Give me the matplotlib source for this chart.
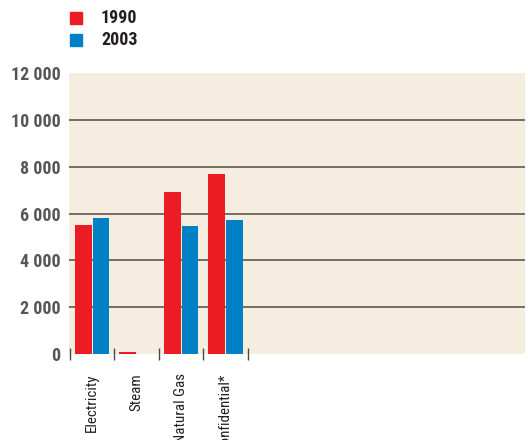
import matplotlib
matplotlib.use("Agg")

import numpy as np
import matplotlib.pyplot as plt
from matplotlib.patches import Rectangle

# ---- Data ----
categories = ["Electricity", "Steam", "Natural Gas", "Confidential*"]
series_names = ["1990", "2003"]
values_1990 = [5500, 70, 6900, 7700]
values_2003 = [5800, 0, 5470, 5730]
y_ticks = [0, 2000, 4000, 6000, 8000, 10000, 12000]
y_tick_labels = ["0", "2 000", "4 000", "6 000", "8 000", "10 000", "12 000"]

RED = "#ed1c24"
BLUE = "#0081c6"
PANEL = "#f5ede0"
GRID = "#756c66"
LABEL_GRAY = "#55565a"
NARROW = ["Roboto Condensed", "Archivo Narrow", "DejaVu Sans"]

fig = plt.figure(figsize=(5.28, 4.40), dpi=100)
ax = fig.add_axes([69 / 528, 1 - 354 / 440, 456 / 528, 281 / 440])
ax.set_facecolor(PANEL)

x = np.arange(len(categories))
width = 0.38
ax.bar(x - 0.2, values_1990, width, color=RED, zorder=3)
ax.bar(x + 0.2, values_2003, width, color=BLUE, zorder=3)

# horizontal guide lines (not at the floor or the ceiling)
for v in y_ticks[1:-1]:
    ax.axhline(v, color=GRID, lw=1.4, zorder=1)

ax.set_ylim(0, 12000)
ax.set_xlim(-0.52, 9.73)

for s in ax.spines.values():
    s.set_visible(False)

ax.set_yticks(y_ticks)
ax.set_yticklabels(y_tick_labels, family=NARROW, fontweight="bold",
                   fontsize=13, color=LABEL_GRAY)
ax.tick_params(axis="y", length=0, pad=6)

ax.set_xticks(x)
ax.set_xticklabels(categories, rotation=90, family=NARROW, fontsize=10.8,
                   color="#231f20", va="top", ha="center")
ax.tick_params(axis="x", which="major", length=0, pad=14)

# small separators between the categories
ax.set_xticks(np.arange(len(categories) + 1) - 0.5, minor=True)
ax.tick_params(axis="x", which="minor", direction="inout", length=8,
               width=1, color="#4a4a4a")

# ---- Legend ----
for i, (name, col) in enumerate(zip(series_names, [RED, BLUE])):
    y0 = 1 - (24 + 22 * i) / 440
    fig.patches.append(Rectangle((70 / 528, y0), 12 / 528, 12 / 440,
                                 transform=fig.transFigure, color=col))
    fig.text(101 / 528, y0 + 6 / 440, name, family=NARROW, fontweight="bold",
             fontsize=13, color="#231f20", va="center", ha="left")

fig.savefig("out.png", dpi=100)
plt.close(fig)
